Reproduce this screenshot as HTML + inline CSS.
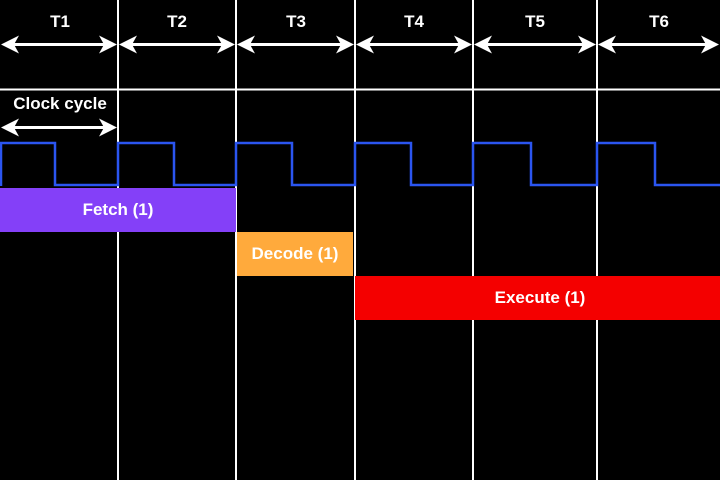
<!DOCTYPE html>
<html><head><style>
html,body{margin:0;padding:0;background:#000;}
svg{display:block;}
text{font-family:"Liberation Sans",sans-serif;font-weight:bold;fill:#fff;}
</style></head><body>
<svg width="720" height="480" viewBox="0 0 720 480" xmlns="http://www.w3.org/2000/svg">
<rect width="720" height="480" fill="#000"/>
<!-- grid -->
<g stroke="#fff" stroke-width="2">
<line x1="0" y1="89.5" x2="720" y2="89.5"/>
<line x1="118" y1="0" x2="118" y2="480"/>
<line x1="236" y1="0" x2="236" y2="480"/>
<line x1="355" y1="0" x2="355" y2="480"/>
<line x1="473" y1="0" x2="473" y2="480"/>
<line x1="597" y1="0" x2="597" y2="480"/>
</g>
<!-- bars -->
<rect x="0" y="188" width="236" height="44" fill="#8440F8"/>
<rect x="237" y="232" width="116" height="44" fill="#FFAA3C"/>
<rect x="355" y="276" width="365" height="44" fill="#F40000"/>
<text x="118" y="215" font-size="17" text-anchor="middle">Fetch (1)</text>
<text x="295" y="259" font-size="17" text-anchor="middle">Decode (1)</text>
<text x="540" y="303" font-size="17" text-anchor="middle">Execute (1)</text>
<!-- wave -->
<polyline fill="none" stroke="#2B55F0" stroke-width="2.5" points="1,186 1,143 55,143 55,185 118,185 118,143 174,143 174,185 236,185 236,143 292,143 292,185 355,185 355,143 411,143 411,185 473,185 473,143 531,143 531,185 597,185 597,143 655,143 655,185 720,185"/>
<!-- labels -->
<text x="60" y="27" font-size="17" text-anchor="middle">T1</text>
<text x="177" y="27" font-size="17" text-anchor="middle">T2</text>
<text x="296" y="27" font-size="17" text-anchor="middle">T3</text>
<text x="414" y="27" font-size="17" text-anchor="middle">T4</text>
<text x="535" y="27" font-size="17" text-anchor="middle">T5</text>
<text x="659" y="27" font-size="17" text-anchor="middle">T6</text>
<text x="60" y="109" font-size="17" text-anchor="middle">Clock cycle</text>
<!-- arrows -->
<g stroke="#fff" stroke-width="3">
<line x1="8" y1="44.5" x2="110" y2="44.5"/>
<line x1="126" y1="44.5" x2="228" y2="44.5"/>
<line x1="244" y1="44.5" x2="347" y2="44.5"/>
<line x1="363" y1="44.5" x2="465" y2="44.5"/>
<line x1="481" y1="44.5" x2="589" y2="44.5"/>
<line x1="605" y1="44.5" x2="712" y2="44.5"/>
<line x1="8" y1="127.5" x2="110" y2="127.5"/>
</g>
<g fill="#fff">
<polygon points="1,44.5 19,35.5 14,44.5 19,53.5"/>
<polygon points="119,44.5 137,35.5 132,44.5 137,53.5"/>
<polygon points="237,44.5 255,35.5 250,44.5 255,53.5"/>
<polygon points="356,44.5 374,35.5 369,44.5 374,53.5"/>
<polygon points="474,44.5 492,35.5 487,44.5 492,53.5"/>
<polygon points="598,44.5 616,35.5 611,44.5 616,53.5"/>
<polygon points="1,127.5 19,118.5 14,127.5 19,136.5"/>
<polygon points="117,44.5 99,35.5 104,44.5 99,53.5"/>
<polygon points="235,44.5 217,35.5 222,44.5 217,53.5"/>
<polygon points="354,44.5 336,35.5 341,44.5 336,53.5"/>
<polygon points="472,44.5 454,35.5 459,44.5 454,53.5"/>
<polygon points="596,44.5 578,35.5 583,44.5 578,53.5"/>
<polygon points="719,44.5 701,35.5 706,44.5 701,53.5"/>
<polygon points="117,127.5 99,118.5 104,127.5 99,136.5"/>
</g>
</svg>
</body></html>
